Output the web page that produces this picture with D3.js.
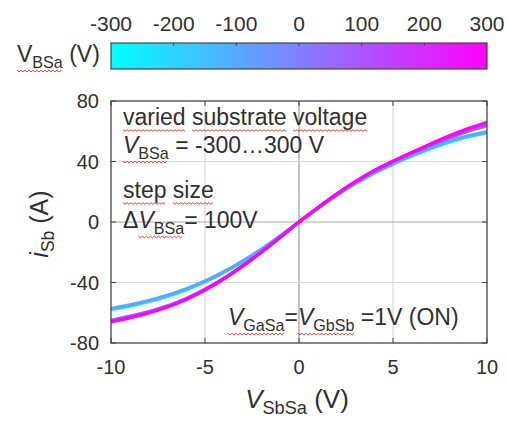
<!DOCTYPE html>
<html>
<head>
<meta charset="utf-8">
<script src="https://cdn.jsdelivr.net/npm/d3@7"></script>
<style>
  body { margin: 0; background: #fff; }
  text { font-family: "Liberation Sans", Arial, sans-serif; fill: #303030; white-space: pre; }
</style>
</head>
<body>
<svg id="chart" width="508" height="421"></svg>
<script>
// sweep voltage V_SbSa (V)
const vSbSa = [-10, -9, -8, -7, -6, -5, -4, -3, -2, -1, 0, 1, 2, 3, 4, 5, 6, 7, 8, 9, 10];
// substrate voltage levels V_BSa (V)
const vBSa = [-300, -200, -100, 0, 100, 200, 300];
// i_Sb (A) for each substrate voltage
const iSb_m300 = [-58, -55.6, -52.7, -49.2, -44.9, -39.6, -33.4, -26.2, -18.2, -9.3, 0, 8.9, 17.6, 25.4, 32.2, 38.2, 43.6, 48.5, 52.8, 56.2, 59];
const iSb_m200 = [-57.7, -55.3, -52.4, -48.9, -44.6, -39.3, -33.1, -26, -18.1, -9.3, 0, 8.9, 17.7, 25.5, 32.4, 38.4, 43.8, 48.8, 53.1, 56.5, 59.3];
const iSb_m100 = [-57.2, -54.8, -51.9, -48.5, -44.2, -39, -32.9, -25.8, -18, -9.2, 0, 9, 17.8, 25.7, 32.6, 38.7, 44.2, 49.2, 53.6, 57, 59.8];
const iSb_0    = [-64.8, -62.2, -59.2, -55.4, -50.5, -44.4, -37.2, -28.9, -19.8, -10, 0, 9.3, 18.2, 26.4, 33.6, 39.9, 45.4, 50.6, 55.5, 59.8, 63.5];
const iSb_p100 = [-65.3, -62.7, -59.6, -55.8, -50.8, -44.6, -37.4, -29, -19.9, -10, 0, 9.3, 18.3, 26.5, 33.7, 40, 45.6, 51, 56, 60.6, 64.4];
const iSb_p200 = [-65.7, -63.1, -59.9, -56, -51, -44.8, -37.5, -29.1, -19.9, -10.1, 0, 9.4, 18.4, 26.6, 33.9, 40.1, 45.8, 51.3, 56.5, 61.2, 65.2];
const iSb_p300 = [-66, -63.4, -60.2, -56.2, -51.2, -45, -37.6, -29.2, -20, -10.1, 0, 9.4, 18.4, 26.7, 34, 40.2, 46, 51.6, 57, 61.8, 66];
const iSbSeries = [iSb_m300, iSb_m200, iSb_m100, iSb_0, iSb_p100, iSb_p200, iSb_p300];

const xTicks = [-10, -5, 0, 5, 10];
const yTicks = [-80, -40, 0, 40, 80];
const cbTicks = [-300, -200, -100, 0, 100, 200, 300];

const svg = d3.select("#chart");
const plot = { left: 111, right: 487, top: 101, bottom: 343 };

let xScale = d3.scaleLinear().domain([-10, 10]).range([plot.left, plot.right]);
let yScale = d3.scaleLinear().domain([-80, 80]).range([plot.bottom, plot.top]);
// MATLAB "cool" colormap
let color = d3.scaleLinear().domain([-300, 300]).range(["#00ffff", "#ff00ff"]).interpolate(d3.interpolateRgb);
let cbScale = d3.scaleLinear().domain([-300, 300]).range([plot.left, plot.right]);

// write text made of plain / italic / subscript parts
function rich(g, x, y, size, parts, attrs) {
  const t = g.append("text").attr("x", x).attr("y", y).style("font-size", size + "px");
  if (attrs) Object.entries(attrs).forEach(([k, v]) => t.attr(k, v));
  let shift = 0;
  parts.forEach(p => {
    const s = t.append("tspan").text(p.t);
    if (p.i) s.style("font-style", "italic");
    const want = p.sub ? size * 0.24 : 0;
    if (want !== shift) { s.attr("dy", want - shift); shift = want; }
    if (p.sub) s.style("font-size", (size * 0.7) + "px");
  });
  return t;
}

// red wavy spell-check underline below character ranges
function squiggle(g, t, ranges) {
  const node = t.node();
  ranges.forEach(([a, b]) => {
    const s = node.getExtentOfChar(a), e = node.getExtentOfChar(b);
    let yb = 0;
    for (let k = a; k <= b; k++) {
      const r = node.getExtentOfChar(k);
      yb = Math.max(yb, r.y + r.height);
    }
    const pts = [];
    for (let x = s.x, i = 0; x <= e.x + e.width; x += 2, i++) pts.push([x, yb + (i % 2 ? 1.3 : -0.3)]);
    g.append("path").attr("d", d3.line()(pts))
      .attr("fill", "none").attr("stroke", "#e8403a").attr("stroke-width", 1);
  });
}

// ---- colorbar ----
const defs = svg.append("defs");
const grad = defs.append("linearGradient").attr("id", "cool");
grad.selectAll("stop").data(cbTicks).enter().append("stop")
  .attr("offset", d => (d + 300) / 600)
  .attr("stop-color", d => color(d));

svg.append("rect")
  .attr("x", plot.left).attr("y", 43)
  .attr("width", plot.right - plot.left).attr("height", 26)
  .attr("fill", "url(#cool)").attr("stroke", "#444").attr("stroke-width", 1.2);

svg.selectAll(".cbtick").data(cbTicks.slice(1, -1)).enter().append("line")
  .attr("x1", d => cbScale(d)).attr("x2", d => cbScale(d))
  .attr("y1", 43).attr("y2", 46).attr("stroke", "#444");

svg.selectAll(".cblabel").data(cbTicks).enter().append("text")
  .attr("x", d => cbScale(d)).attr("y", 31)
  .attr("text-anchor", "middle").style("font-size", "21px")
  .text(d => d);

const cbTitle = rich(svg, 17, 62, 23, [{ t: "V" }, { t: "BSa", sub: true }, { t: " (V)" }]);
squiggle(svg, cbTitle, [[0, 3]]);

// ---- grid ----
svg.append("clipPath").attr("id", "clip").append("rect")
  .attr("x", plot.left).attr("y", plot.top)
  .attr("width", plot.right - plot.left).attr("height", plot.bottom - plot.top);

svg.selectAll(".vgrid").data(xTicks.slice(1, -1)).enter().append("line")
  .attr("x1", d => xScale(d)).attr("x2", d => xScale(d))
  .attr("y1", plot.top).attr("y2", plot.bottom)
  .attr("stroke", d => d === 0 ? "#9a9a9a" : "#d9d9d9").attr("stroke-width", 1.2);

svg.selectAll(".hgrid").data(yTicks.slice(1, -1)).enter().append("line")
  .attr("x1", plot.left).attr("x2", plot.right)
  .attr("y1", d => yScale(d)).attr("y2", d => yScale(d))
  .attr("stroke", d => d === 0 ? "#a8a8a8" : "#d9d9d9").attr("stroke-width", 1.2);

// ---- curves ----
let line = d3.line()
  .x((d, i) => xScale(vSbSa[i]))
  .y(d => yScale(d))
  .curve(d3.curveMonotoneX);

const curves = svg.append("g").attr("clip-path", "url(#clip)");
for (let i = 0; i < vBSa.length; ++i) {
  curves.append("path")
    .attr("d", line(iSbSeries[i]))
    .attr("fill", "none")
    .attr("stroke", color(vBSa[i]))
    .attr("stroke-width", 3.2)
    .attr("stroke-linejoin", "round");
}

// ---- axes box and ticks ----
svg.append("rect")
  .attr("x", plot.left).attr("y", plot.top)
  .attr("width", plot.right - plot.left).attr("height", plot.bottom - plot.top)
  .attr("fill", "none").attr("stroke", "#444").attr("stroke-width", 1.3);

const tk = 5;
xTicks.forEach(d => {
  svg.append("line").attr("x1", xScale(d)).attr("x2", xScale(d))
    .attr("y1", plot.bottom).attr("y2", plot.bottom - tk).attr("stroke", "#444");
  svg.append("line").attr("x1", xScale(d)).attr("x2", xScale(d))
    .attr("y1", plot.top).attr("y2", plot.top + tk).attr("stroke", "#444");
});
yTicks.forEach(d => {
  svg.append("line").attr("x1", plot.left).attr("x2", plot.left + tk)
    .attr("y1", yScale(d)).attr("y2", yScale(d)).attr("stroke", "#444");
  svg.append("line").attr("x1", plot.right).attr("x2", plot.right - tk)
    .attr("y1", yScale(d)).attr("y2", yScale(d)).attr("stroke", "#444");
});

svg.selectAll(".xlabel").data(xTicks).enter().append("text")
  .attr("x", d => xScale(d)).attr("y", 374)
  .attr("text-anchor", "middle").style("font-size", "20px")
  .text(d => d);

svg.selectAll(".ylabel").data(yTicks).enter().append("text")
  .attr("x", 99).attr("y", d => yScale(d) + 7)
  .attr("text-anchor", "end").style("font-size", "20px")
  .text(d => d);

// axis titles
rich(svg, 297, 408, 26, [{ t: "V", i: true }, { t: "SbSa", sub: true }, { t: " (V)" }], { "text-anchor": "middle" });

const yTitle = svg.append("g").attr("transform", "translate(48,224) rotate(-90)");
rich(yTitle, 0, 0, 25, [{ t: "i", i: true }, { t: "Sb", sub: true }, { t: " (A)" }], { "text-anchor": "middle" });

// ---- annotations ----
const t1 = rich(svg, 123, 125, 23, [{ t: "varied substrate voltage" }]);
squiggle(svg, t1, [[0, 5], [7, 15], [17, 23]]);

const t2 = rich(svg, 123, 153, 23, [{ t: "V", i: true }, { t: "BSa", sub: true }, { t: " = -300\u2026300 V" }]);
squiggle(svg, t2, [[0, 3]]);

const t3 = rich(svg, 123, 198, 23, [{ t: "step size" }]);
squiggle(svg, t3, [[0, 3], [5, 8]]);

const t4 = rich(svg, 123, 228, 23, [{ t: "\u0394" }, { t: "V", i: true }, { t: "BSa", sub: true }, { t: "= 100V" }]);
squiggle(svg, t4, [[1, 4]]);

const t5 = rich(svg, 228, 325, 23, [
  { t: "V", i: true }, { t: "GaSa", sub: true }, { t: "=" },
  { t: "V", i: true }, { t: "GbSb", sub: true }, { t: " =1V (ON)" }
]);
squiggle(svg, t5, [[0, 4], [6, 10]]);
</script>
</body>
</html>
